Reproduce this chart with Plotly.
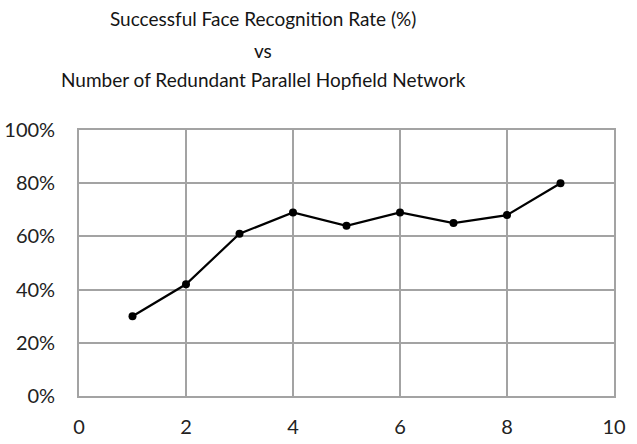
import plotly.graph_objects as go

x_vals = [1, 2, 3, 4, 5, 6, 7, 8, 9]
rate_pct = [30, 42, 61, 69, 64, 69, 65, 68, 80]
title_lines = ["Successful Face Recognition Rate (%)", "vs", "Number of Redundant Parallel Hopfield Network"]
x_ticks = [0, 2, 4, 6, 8, 10]
y_ticks = [0, 20, 40, 60, 80, 100]
y_tick_text = [f"{v}%" for v in y_ticks]

W, H = 637, 444
L, R, T, B = 79, 23, 130, 48
ph = H - T - B
pw = W - L - R

fig = go.Figure()
fig.add_trace(go.Scatter(
    x=x_vals, y=rate_pct, mode="lines+markers",
    line=dict(color="black", width=2.2),
    marker=dict(color="black", size=8),
    showlegend=False,
))

title_y_px = [18, 50, 79]
annotations = []
for txt, ypx in zip(title_lines, title_y_px):
    annotations.append(dict(
        text=txt, xref="paper", yref="paper",
        x=(263 - L) / pw, y=(H - B - ypx) / ph,
        xanchor="center", yanchor="middle", showarrow=False,
        font=dict(family="Lato", size=19, color="#151515"),
    ))

fig.update_layout(
    width=W, height=H,
    margin=dict(l=L, r=R, t=T, b=B, autoexpand=False),
    paper_bgcolor="white", plot_bgcolor="white",
    annotations=annotations,
    font=dict(family="Lato", size=20, color="#222222"),
)
fig.update_xaxes(
    range=[0, 10], tickvals=x_ticks, showgrid=True, gridcolor="#a3a3a3", gridwidth=1.7,
    showline=True, linecolor="#a3a3a3", linewidth=1.7, mirror=True, zeroline=False,
    ticks="", ticklabelstandoff=12, automargin=False,
)
fig.update_yaxes(
    range=[0, 100], tickvals=y_ticks, ticktext=y_tick_text, showgrid=True, gridcolor="#a3a3a3", gridwidth=1.7,
    showline=True, linecolor="#a3a3a3", linewidth=1.7, mirror=True, zeroline=False,
    ticks="", ticklabelstandoff=18, automargin=False,
)

fig.write_html("out.html")
